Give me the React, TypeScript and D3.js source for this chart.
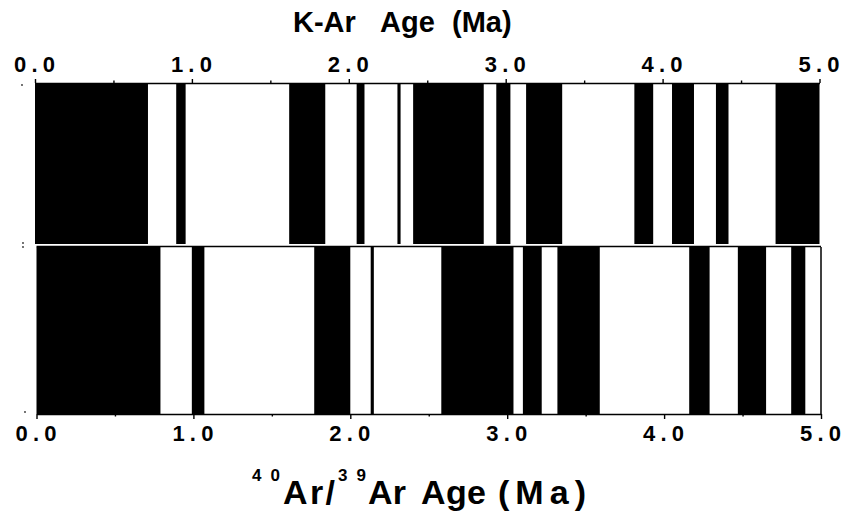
import React, { useEffect, useRef } from 'react';
import * as d3 from 'd3';

// polarity reversal ages (Ma), youngest first; the first interval (from 0) is normal = black
const kArBoundaries = [0.72, 0.90, 0.96, 1.62, 1.85, 2.05, 2.10, 2.31, 2.33, 2.41, 2.86, 2.94,
    3.03, 3.13, 3.36, 3.82, 3.94, 4.06, 4.20, 4.34, 4.42, 4.72];
const arArBoundaries = [0.79, 0.99, 1.07, 1.77, 2.00, 2.13, 2.15, 2.58, 3.04, 3.10, 3.22, 3.32,
    3.59, 4.16, 4.29, 4.47, 4.65, 4.81, 4.90];
const ageDomain = [0, 5];
const tickValues = [0, 0.5, 1, 1.5, 2, 2.5, 3, 3.5, 4, 4.5, 5];

const FONT = '"Liberation Sans", Arial, Helvetica, sans-serif';

const toIntervals = (bounds: number[]) => {
    const edges = [ageDomain[0], ...bounds, ageDomain[1]];
    return d3.range(edges.length - 1).map(i => ({ start: edges[i], end: edges[i + 1], normal: i % 2 === 0 }));
};

export default function App() {
    const svgRef = useRef<SVGSVGElement>(null);

    const width = 844;
    const height = 511;

    const top = { y0: 83, y1: 244, x0: 35, x1: 819.5 };
    const bot = { y0: 247, y1: 414, x0: 36.5, x1: 821 };

    useEffect(() => {
        const svg = d3.select(svgRef.current)
            .attr('width', width)
            .attr('height', height);
        svg.selectAll('*').remove();

        svg.append('rect').attr('width', width).attr('height', height).attr('fill', '#fff');

        const xTop = d3.scaleLinear().domain(ageDomain).range([top.x0, top.x1]);
        const xBot = d3.scaleLinear().domain(ageDomain).range([bot.x0, bot.x1]);

        const fmt = (d: any) => (d % 1 === 0 ? d3.format('.1f')(d) : '');

        // polarity bars
        const drawBars = (bounds: number[], x: d3.ScaleLinear<number, number>, y0: number, y1: number) => {
            svg.append('g')
                .selectAll('rect')
                .data(toIntervals(bounds).filter(d => d.normal))
                .enter()
                .append('rect')
                .attr('x', d => x(d.start))
                .attr('width', d => x(d.end) - x(d.start))
                .attr('y', y0)
                .attr('height', y1 - y0)
                .attr('fill', '#000');
        };
        drawBars(kArBoundaries, xTop, top.y0, top.y1);
        drawBars(arArBoundaries, xBot, bot.y0, bot.y1);

        // panel frame bits
        svg.append('line')
            .attr('x1', bot.x0).attr('x2', bot.x1)
            .attr('y1', bot.y0 - 0.5).attr('y2', bot.y0 - 0.5)
            .attr('stroke', '#000').attr('stroke-width', 1.5);
        svg.append('line')
            .attr('x1', bot.x1).attr('x2', bot.x1)
            .attr('y1', bot.y0).attr('y2', bot.y1)
            .attr('stroke', '#000').attr('stroke-width', 1.5);

        // stray marks at the left edge
        [[22, 85], [23, 243], [23, 247], [25, 412]].forEach(([cx, cy]) => {
            svg.append('circle').attr('cx', cx).attr('cy', cy).attr('r', 0.9).attr('fill', '#333');
        });

        // axes
        const styleAxis = (g: any, labelY: number, minorDir: number) => {
            g.select('.domain').attr('stroke-width', 1.6);
            g.selectAll('.tick line').attr('stroke-width', 1.4);
            g.selectAll('.tick')
                .filter((d: number) => d % 1 !== 0)
                .select('line')
                .attr('y2', 2.5 * minorDir);
            g.selectAll('.tick text')
                .filter((d: number) => d % 1 === 0)
                .attr('y', labelY)
                .attr('dy', 0)
                .attr('dx', -1)
                .attr('textLength', 41)
                .attr('lengthAdjust', 'spacing')
                .attr('font-family', FONT)
                .attr('font-weight', 'bold')
                .attr('font-size', 22)
                .attr('fill', '#000');
        };

        const topAxisG = svg.append('g')
            .attr('transform', `translate(0, ${top.y0})`)
            .call(d3.axisTop(xTop).tickValues(tickValues).tickSize(4).tickSizeOuter(0).tickFormat(fmt));
        styleAxis(topAxisG, -11, -1);

        const botAxisG = svg.append('g')
            .attr('transform', `translate(0, ${bot.y1})`)
            .call(d3.axisBottom(xBot).tickValues(tickValues).tickSize(5).tickSizeOuter(0).tickFormat(fmt));
        styleAxis(botAxisG, 27, 1);

        // titles
        const title = svg.append('text')
            .attr('y', 32)
            .attr('font-family', FONT)
            .attr('font-weight', 'bold')
            .attr('font-size', 29)
            .attr('fill', '#000');
        title.append('tspan').attr('x', 293).text('K-Ar');
        title.append('tspan').attr('x', 380).text('Age');
        title.append('tspan').attr('x', 452).text('(Ma)');

        const pieces = [
            { t: '40', x: 252, w: 28, size: 17, y: 481 },
            { t: 'Ar/', x: 283, w: 52, size: 34, y: 504 },
            { t: '39', x: 338, w: 28, size: 17, y: 481 },
            { t: 'Ar', x: 368, w: 38, size: 34, y: 504 },
            { t: 'Age', x: 421, w: 65, size: 34, y: 504 },
            { t: '(Ma)', x: 498, w: 88, size: 34, y: 504 },
        ];
        svg.append('g')
            .selectAll('text')
            .data(pieces)
            .enter()
            .append('text')
            .attr('x', d => d.x)
            .attr('y', d => d.y)
            .attr('textLength', d => d.w)
            .attr('lengthAdjust', 'spacing')
            .attr('font-family', FONT)
            .attr('font-weight', 'bold')
            .attr('font-size', d => d.size)
            .attr('fill', '#000')
            .text(d => d.t);
    }, []);

    return (
        <svg ref={svgRef} style={{ position: 'absolute', left: 0, top: 0, display: 'block' }}></svg>
    );
}
